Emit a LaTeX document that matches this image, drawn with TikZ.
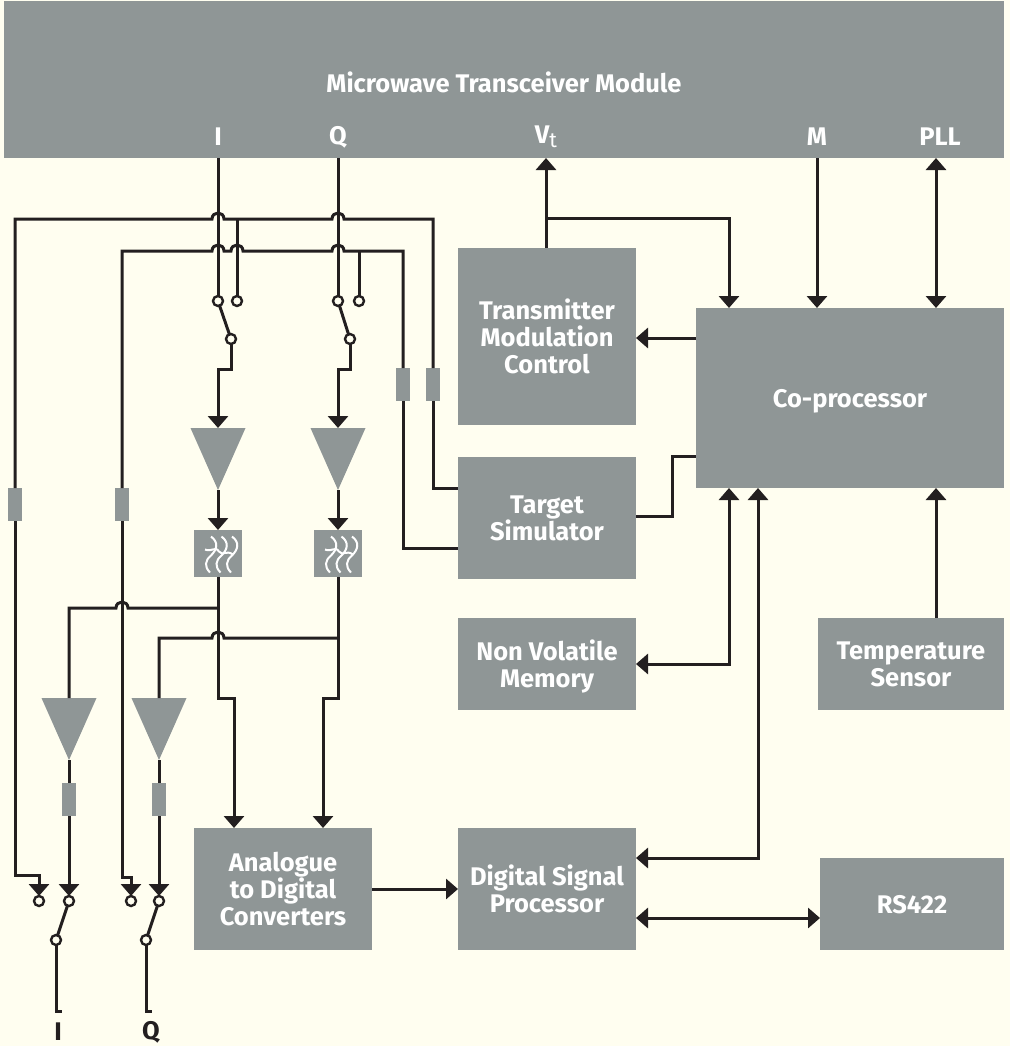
\documentclass[tikz,border=0pt]{standalone}
\usepackage{fontspec}
\setmainfont{Fira Sans}
\usepackage{xcolor}
\usepackage{tikz}
\usetikzlibrary{arrows.meta,positioning,shapes.geometric}
\definecolor{RadarGray}{HTML}{8F9696}
\definecolor{RadarCream}{HTML}{FFFEF0}
\definecolor{RadarWire}{HTML}{231F20}
% one hump of a wire over a crossing, always drawn left to right
\newcommand{\hop}[2]{-- (#1-6,#2) .. controls (#1-6,#2-8) and (#1+6,#2-8) .. (#1+6,#2)}
\tikzset{
  ripple/.pic={
    \foreach \dx in {-7,3.5,14}{
      \draw[white,line width=2pt] (\dx,-17) .. controls (\dx+8,-11) and (\dx+6,-4) .. (\dx,2) .. controls (\dx-6,7) and (\dx-7,13) .. (\dx-1,19);
    }
    \draw[white,line width=2pt] (-13,-4) .. controls (-6,-1) and (-3,-8) .. (1,-2) .. controls (5,3) and (8,-4) .. (15,1);
  }
}
\begin{document}
\begin{tikzpicture}[x=1pt,y=-1pt,
  every node/.style={font=\fontsize{25.5}{27}\selectfont\bfseries,text=white,align=center,outer sep=0pt},
  box/.style={fill=RadarGray,inner sep=0pt,text depth=-4pt},
  wire/.style={draw=RadarWire,line width=3pt},
  arr/.style={wire,-{Triangle[length=12pt,width=20pt]}},
  arrb/.style={wire,{Triangle[length=12pt,width=20pt]}-{Triangle[length=12pt,width=20pt]}},
  amp/.style={isosceles triangle,isosceles triangle stretches,shape border rotate=270,fill=RadarGray,inner sep=0pt,minimum width=55pt,minimum height=62pt,anchor=apex},
  res/.style={fill=RadarGray,inner sep=0pt,minimum width=14pt,minimum height=33pt},
  term/.style={circle,draw=RadarWire,fill=RadarCream,line width=2.4pt,inner sep=0pt,minimum size=10pt},
  filt/.style={fill=RadarGray,inner sep=0pt,minimum width=48pt,minimum height=47pt}]
\fill[RadarCream] (0,0) rectangle (1010,1046);
\useasboundingbox (0,0) rectangle (1010,1046);
% main blocks
\node[box,minimum width=1000pt,minimum height=157pt] (band) at (504,79.5) {};
\node (title) at (504,82) {Microwave Transceiver Module};
\node[box,minimum width=178pt,minimum height=177pt,text depth=-10pt] (tmc) at (547,336.5) {Transmitter\\Modulation\\Control};
\node[box,minimum width=178pt,minimum height=122pt,text depth=-6pt,below=32pt of tmc] (sim) {Target\\Simulator};
\node[box,minimum width=178pt,minimum height=92pt,below=39pt of sim] (nvm) {Non Volatile\\Memory};
\node[box,minimum width=178pt,minimum height=122pt,text depth=-2pt,below=118pt of nvm] (dsp) {Digital Signal\\Processor};
\node[box,minimum width=178pt,minimum height=122pt,text depth=0pt,left=86pt of dsp] (adc) {Analogue\\to Digital\\Converters};
\node[box,minimum width=308pt,minimum height=180pt] (cop) at (850,398) {Co-processor};
\node[box,minimum width=186pt,minimum height=92pt] (temp) at (911,664) {Temperature\\Sensor};
\node[box,minimum width=184pt,minimum height=92pt,text depth=0pt] (rs) at (912,904) {RS422};
% signal names
\node (sigI) at (218,137) {I};
\node (sigQ) at (338,137) {Q};
\node (sigV) at (546,137) {V\raisebox{-4pt}{\fontsize{21}{21}\selectfont\mdseries t}};
\node (sigM) at (817,137) {M};
\node (sigP) at (940,137) {PLL};
\node[text=RadarWire] (outI) at (58,1032) {I};
\node[text=RadarWire] (outQ) at (151,1032) {Q};
% front end
\node[amp] (ampI) at (218,490) {};
\node[amp] (ampQ) at (338,490) {};
\node[filt] (filtI) at (218,553.5) {};
\node[filt] (filtQ) at (338,553.5) {};
\pic at (filtI) {ripple};
\pic at (filtQ) {ripple};
\node[amp] (ampA) at (69,760) {};
\node[amp] (ampB) at (159,760) {};
\node[res] (resA) at (15,504.5) {};
\node[res] (resB) at (122,504.5) {};
\node[res] (resC) at (433,384.5) {};
\node[res] (resD) at (403,384.5) {};
\node[res] (resE) at (69,799.5) {};
\node[res] (resF) at (159,799.5) {};
% switches
\node[term] (upI) at (218,301) {};
\node[term] (upIb) at (237,301) {};
\node[term] (pivI) at (231,339) {};
\node[term] (upQ) at (338,301) {};
\node[term] (upQb) at (359,301) {};
\node[term] (pivQ) at (350,339) {};
\node[term] (loA) at (39,901) {};
\node[term] (loB) at (69,901) {};
\node[term] (loC) at (131,901) {};
\node[term] (loD) at (159,901) {};
\node[term] (pivA) at (56,940) {};
\node[term] (pivB) at (146,940) {};
\coordinate (tapA) at (237,219);
\coordinate (tapB) at (359,251);
\coordinate (tapI) at (218,608);
\coordinate (tapQ) at (338,638);
\coordinate (tapV) at (546,218);
\coordinate (endA) at (62,1011);
\coordinate (endB) at (152,1011);
% wiring on the left
\draw[wire] (sigI|-band.south) -- (upI);
\draw[wire] (sigQ|-band.south) -- (upQ);
\draw[wire] (resA.north) -- (15,219) \hop{218}{219} \hop{338}{219} -- (433,219) -- (resC.north);
\draw[wire] (resB.north) -- (122,251) \hop{218}{251} \hop{237}{251} \hop{338}{251} -- (403,251) -- (resD.north);
\draw[wire] (tapA) -- (upIb);
\draw[wire] (tapB) -- (upQb);
\draw[wire] (upI) -- (pivI);
\draw[wire] (upQ) -- (pivQ);
\draw[arr] (pivI.south) -- ++(0,25) -| (ampI.north);
\draw[arr] (pivQ.south) -- ++(0,25) -| (ampQ.north);
\draw[arr] (ampI.apex) -- (filtI.north);
\draw[arr] (ampQ.apex) -- (filtQ.north);
\draw[arr] (filtI.south) -- ++(0,121) -| ([xshift=-49pt]adc.north);
\draw[arr] (filtQ.south) -- ++(0,121) -| ([xshift=40pt]adc.north);
\draw[wire] (ampA.north) -- (69,608) \hop{122}{608} -- (tapI);
\draw[wire] (ampB.north) -- (159,638) \hop{218}{638} -- (tapQ);
\draw[wire] (ampA.apex) -- (resE.north);
\draw[wire] (ampB.apex) -- (resF.north);
\draw[arr] (resE.south) -- (loB.north);
\draw[arr] (resF.south) -- (loD.north);
\draw[arr] (resA.south) -- (15,875) -| (loA.north);
\draw[arr] (resB.south) -- (122,877) -| (loC.north);
\draw[wire] (resC.south) |- ([yshift=30pt]sim.west);
\draw[wire] (resD.south) |- ([yshift=-30pt]sim.west);
\draw[wire] (loB) -- (pivA);
\draw[wire] (loD) -- (pivB);
\draw[wire] (pivA.south) |- (endA);
\draw[wire] (pivB.south) |- (endB);
% wiring on the right
\draw[arr] (sigV|-tmc.north) -- (sigV|-band.south);
\draw[arr] (tapV) -| ([xshift=-121pt]cop.north);
\draw[arr] (sigM|-band.south) -- (sigM|-cop.north);
\draw[arrb] ([xshift=86pt]cop.north) -- ([xshift=86pt]cop.north|-band.south);
\draw[arr] ([yshift=60pt]cop.west) -- ([yshift=60pt]cop.west-|tmc.east);
\draw[wire] ([yshift=2pt]sim.east) -- ++(36,0) |- ([yshift=-58pt]cop.west);
\draw[arrb] ([xshift=-121pt]cop.south) |- (nvm.east);
\draw[arrb] ([xshift=-92pt]cop.south) |- ([yshift=31pt]dsp.east);
\draw[arr] ([xshift=25pt]temp.north) -- ([xshift=25pt]temp.north|-cop.south);
\draw[arr] (adc.east) -- (dsp.west);
\draw[arrb] ([yshift=-29pt]dsp.east) -- ([yshift=-29pt]dsp.east-|rs.west);
\end{tikzpicture}
\end{document}
